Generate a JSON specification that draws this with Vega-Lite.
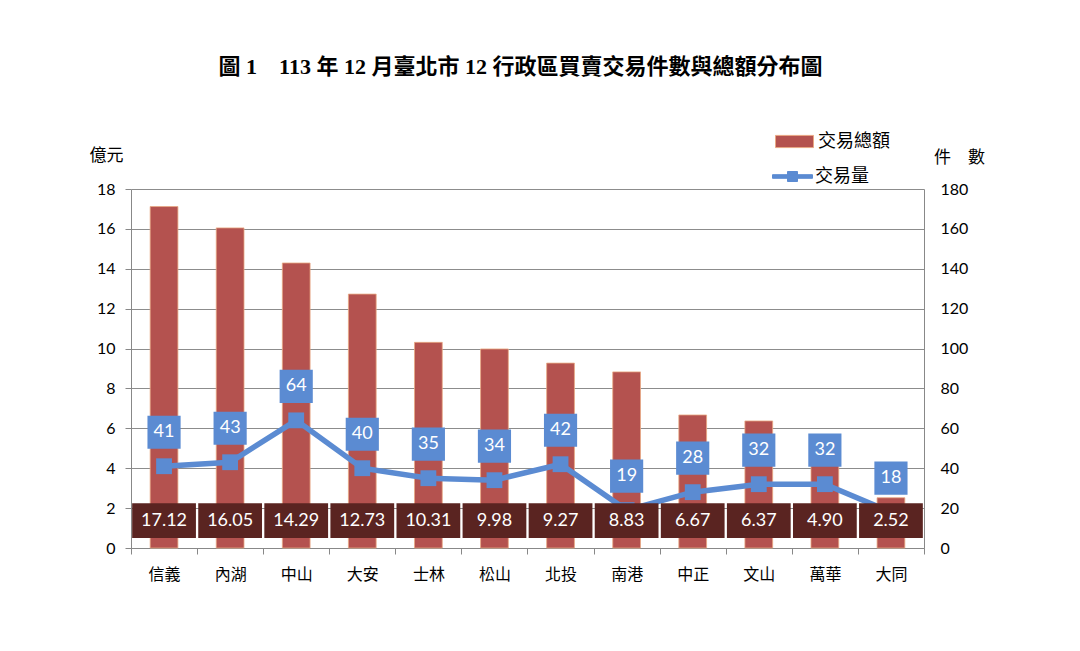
{
  "$schema": "https://vega.github.io/schema/vega-lite/v6.json",
  "width": 793,
  "height": 359,
  "autosize": "none",
  "padding": {"left": 131, "top": 189, "right": 156, "bottom": 103},
  "background": "white",
  "title": {
    "text": "圖 1\u3000113 年 12 月臺北市 12 行政區買賣交易件數與總額分布圖",
    "font": "Liberation Serif, Noto Sans CJK TC",
    "fontSize": 22,
    "fontWeight": "bold",
    "color": "#000000",
    "anchor": "middle",
    "frame": "group",
    "orient": "top",
    "offset": 43,
    "dx": -7
  },
  "data": {
    "values": [
      {"district": "信義", "amount": 17.12, "count": 41},
      {"district": "內湖", "amount": 16.05, "count": 43},
      {"district": "中山", "amount": 14.29, "count": 64},
      {"district": "大安", "amount": 12.73, "count": 40},
      {"district": "士林", "amount": 10.31, "count": 35},
      {"district": "松山", "amount": 9.98, "count": 34},
      {"district": "北投", "amount": 9.27, "count": 42},
      {"district": "南港", "amount": 8.83, "count": 19},
      {"district": "中正", "amount": 6.67, "count": 28},
      {"district": "文山", "amount": 6.37, "count": 32},
      {"district": "萬華", "amount": 4.90, "count": 32},
      {"district": "大同", "amount": 2.52, "count": 18}
    ]
  },
  "layer": [
    {
      "mark": {"type": "bar", "width": {"band": 0.42}, "stroke": "#E9A883", "strokeWidth": 0.8},
      "encoding": {
        "x": {
          "field": "district", "type": "nominal", "sort": null,
          "scale": {"paddingInner": 0, "paddingOuter": 0},
          "axis": {
            "title": null,
            "labelAngle": 0,
            "labelFont": "Noto Sans CJK TC",
            "labelFontSize": 16,
            "labelColor": "#000000",
            "labelPadding": 12,
            "tickBand": "extent",
            "tickSize": 6,
            "tickColor": "#888888",
            "domainColor": "#888888",
            "grid": false
          }
        },
        "y": {
          "field": "amount", "type": "quantitative",
          "scale": {"domain": [0, 18], "nice": false},
          "axis": {
            "orient": "left",
            "values": [0, 2, 4, 6, 8, 10, 12, 14, 16, 18],
            "labelOverlap": false,
            "title": "億元",
            "titleAngle": 0,
            "titleFont": "Noto Sans CJK TC",
            "titleFontSize": 17,
            "titleFontWeight": "normal",
            "titleColor": "#000000",
            "titleX": -25,
            "titleY": -34,
            "titleAlign": "center",
            "titleBaseline": "middle",
            "labelFont": "Lato",
            "labelFontSize": 16,
            "labelColor": "#000000",
            "labelPadding": 10,
            "tickSize": 6,
            "tickColor": "#888888",
            "domainColor": "#888888",
            "grid": true,
            "gridColor": "#8c8c8c",
            "gridWidth": 1
          }
        },
        "fill": {
          "datum": "交易總額",
          "scale": {"range": ["#B4524F"]},
          "legend": {
            "title": null,
            "orient": "none",
            "legendX": 644,
            "legendY": -67,
            "symbolType": "M-1,-0.32H1V0.32H-1Z",
            "symbolSize": 1444,
            "symbolStrokeColor": "#E9A883",
            "symbolStrokeWidth": 1,
            "labelFont": "Noto Sans CJK TC",
            "labelFontSize": 18,
            "labelColor": "#000000",
            "labelOffset": 4
          }
        }
      }
    },
    {
      "mark": {"type": "line", "strokeWidth": 5.5},
      "encoding": {
        "x": {"field": "district", "type": "nominal", "sort": null},
        "y": {
          "field": "count", "type": "quantitative",
          "scale": {"domain": [0, 180], "nice": false},
          "axis": {
            "orient": "right",
            "values": [0, 20, 40, 60, 80, 100, 120, 140, 160, 180],
            "labelOverlap": false,
            "title": "件\u2003數",
            "titleAngle": 0,
            "titleFont": "Noto Sans CJK TC",
            "titleFontSize": 17,
            "titleFontWeight": "normal",
            "titleColor": "#000000",
            "titleX": 35,
            "titleY": -32,
            "titleAlign": "center",
            "titleBaseline": "middle",
            "labelFont": "Lato",
            "labelFontSize": 16,
            "labelColor": "#000000",
            "labelPadding": 16,
            "tickSize": 0,
            "domainColor": "#888888",
            "grid": false
          }
        },
        "stroke": {
          "datum": "交易量",
          "scale": {"range": ["#5B8BD2"]},
          "legend": {
            "title": null,
            "orient": "none",
            "legendX": 641,
            "legendY": -33,
            "symbolType": "M-1,-0.09H1V0.09H-1Z M-0.25,-0.25H0.25V0.25H-0.25Z",
            "symbolSize": 1600,
            "symbolFillColor": "#5B8BD2",
            "symbolStrokeWidth": 1,
            "labelFont": "Noto Sans CJK TC",
            "labelFontSize": 18,
            "labelColor": "#000000",
            "labelOffset": 2
          }
        }
      }
    },
    {
      "layer": [
        {
          "mark": {"type": "point", "shape": "square", "filled": true, "size": 250, "color": "#5B8BD2", "opacity": 1},
          "encoding": {
            "x": {"field": "district", "type": "nominal", "sort": null},
            "y": {"field": "count", "type": "quantitative", "scale": {"domain": [0, 180], "nice": false}, "axis": null}
          }
        },
        {
          "mark": {"type": "point", "shape": "square", "filled": true, "size": 1100, "color": "#5B8BD2", "opacity": 1, "yOffset": -34},
          "encoding": {
            "x": {"field": "district", "type": "nominal", "sort": null},
            "y": {"field": "count", "type": "quantitative"}
          }
        },
        {
          "mark": {"type": "text", "font": "Lato", "fontSize": 18, "color": "#FFFFFF", "baseline": "middle", "align": "center", "yOffset": -34},
          "encoding": {
            "x": {"field": "district", "type": "nominal", "sort": null},
            "y": {"field": "count", "type": "quantitative"},
            "text": {"field": "count", "type": "quantitative"}
          }
        }
      ]
    },
    {
      "layer": [
        {
          "mark": {"type": "bar", "width": {"band": 0.965}, "fill": "#5A2421"},
          "encoding": {
            "x": {"field": "district", "type": "nominal", "sort": null},
            "y": {"datum": 0.5, "type": "quantitative", "scale": {"domain": [0, 18], "nice": false}, "axis": null},
            "y2": {"datum": 2.25}
          }
        },
        {
          "mark": {"type": "text", "font": "Lato", "fontSize": 18, "color": "#FFFFFF", "baseline": "middle", "align": "center"},
          "encoding": {
            "x": {"field": "district", "type": "nominal", "sort": null},
            "y": {"datum": 1.37, "type": "quantitative", "axis": null},
            "text": {"field": "amount", "type": "quantitative", "format": ".2f"}
          }
        }
      ]
    }
  ],
  "resolve": {"scale": {"y": "independent"}},
  "config": {
    "view": {"stroke": null}
  }
}
